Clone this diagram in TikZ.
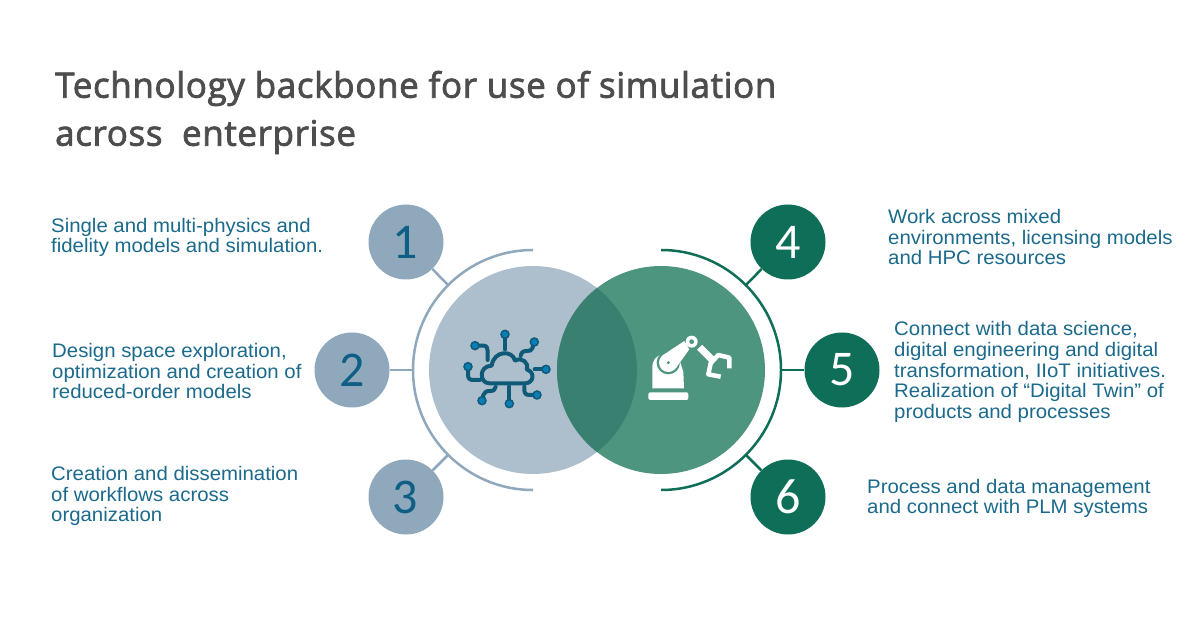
\documentclass[tikz,border=0pt]{standalone}
\usepackage{fontspec}
\setmainfont{Liberation Sans}[FakeStretch=1.04]
\newfontfamily\titlefont{Open Sans}[FakeBold=2.2,LetterSpace=1.8]
\newfontfamily\digitfont{Carlito}
\definecolor{lcirc}{HTML}{ADBFCC}
\definecolor{rcirc}{HTML}{4D957F}
\definecolor{ovl}{HTML}{3A8070}
\definecolor{lbadge}{HTML}{8FA8BC}
\definecolor{rbadge}{HTML}{0F6E58}
\definecolor{ldigit}{HTML}{0F5F85}
\definecolor{txt}{HTML}{1B6A8C}
\definecolor{ttl}{HTML}{4D4D4D}
\definecolor{ico}{HTML}{0F5A78}
\definecolor{dotc}{HTML}{0A7FB5}
\tikzset{
  lb/.style={circle,fill=lbadge,minimum size=75pt,inner sep=0pt,text=ldigit,font=\digitfont\fontsize{50}{50}\selectfont},
  rb/.style={circle,fill=rbadge,minimum size=75pt,inner sep=0pt,text=white,font=\digitfont\fontsize{50}{50}\selectfont},
  desc/.style={anchor=west,align=left,inner sep=0pt,text=txt,font=\fontsize{19.6}{20.8}\selectfont},
  ttlnode/.style={anchor=west,align=left,inner sep=0pt,text=ttl,font=\titlefont\fontsize{35}{48}\selectfont},
  larc/.style={draw=lbadge,line width=2.5pt},
  rarc/.style={draw=rbadge,line width=2.5pt},
  wire/.style={draw=ico,line width=4pt,line cap=round,line join=round},
  tip/.style={fill=dotc,draw=ico,line width=1.5pt},
}
\begin{document}
\begin{tikzpicture}[x=1pt,y=-1pt]
\useasboundingbox (0,0) rectangle (1200,628);
\fill[white] (0,0) rectangle (1200,628);
\node[ttlnode] (title) at (55,112.5) {Technology backbone for use of simulation\\across\ \ enterprise};
% circles
\fill[lcirc] (533,370) circle (104);
\fill[rcirc] (661,370) circle (104);
\begin{scope}
\clip (533,370) circle (104);
\fill[ovl] (661,370) circle (104);
\end{scope}
% arcs
\draw[larc] (533,250) arc[start angle=-90,end angle=-270,radius=120];
\draw[rarc] (661,250) arc[start angle=-90,end angle=90,radius=120];
\coordinate (a1) at (448,285);
\coordinate (a2) at (413,370);
\coordinate (a3) at (448,455);
\coordinate (a4) at (746,285);
\coordinate (a5) at (781,370);
\coordinate (a6) at (746,455);
\node[lb] (b1) at (406,242) {\kern-2pt 1};
\node[lb] (b2) at (352,370) {2};
\node[lb] (b3) at (406,497) {\kern-2pt 3};
\node[rb] (b4) at (788,242) {4};
\node[rb] (b5) at (842,370) {5};
\node[rb] (b6) at (788,497) {6};
\draw[larc] (b1) -- (a1);
\draw[larc] (b2) -- (a2);
\draw[larc] (b3) -- (a3);
\draw[rarc] (b4) -- (a4);
\draw[rarc] (b5) -- (a5);
\draw[rarc] (b6) -- (a6);
% texts
\node[desc] (t1) at (51,237.5) {Single and multi-physics and\\fidelity models and simulation.};
\node[desc] (t2) at (52,371) {Design space exploration,\\optimization and creation of\\reduced-order models};
\node[desc] (t3) at (51,496) {Creation and dissemination\\of workflows across\\organization};
\node[desc] (t4) at (888,237) {Work across mixed\\environments, licensing models\\and HPC resources};
\node[desc] (t5) at (894,372) {Connect with data science,\\digital engineering and digital\\transformation, IIoT initiatives.\\Realization of “Digital Twin” of\\products and processes};
\node[desc] (t6) at (867,498.5) {Process and data management\\and connect with PLM systems};
% cloud icon
\begin{scope}[shift={(430,300)},x=0.3333pt,y=-0.3333pt]
\draw[wire] (178,250) .. controls (148,250) and (145,198) .. (185,197)
 .. controls (192,150) and (248,150) .. (255,182)
 .. controls (275,170) and (298,188) .. (290,208)
 .. controls (318,218) and (310,250) .. (285,250) -- cycle;
\draw[wire] (225,103) -- (225,148);
\draw[wire] (135,137) -- (160,137) .. controls (170,137) and (173,143) .. (173,152) -- (173,180);
\draw[wire] (313,126) -- (307,145) .. controls (305,152) and (298,153) .. (290,153) .. controls (278,153) and (274,158) .. (272,168);
\draw[wire] (114,200) -- (114,225) .. controls (114,236) and (120,240) .. (130,240) -- (150,240);
\draw[wire] (348,208) -- (314,208);
\draw[wire] (321,285) -- (298,285) .. controls (288,285) and (283,280) .. (283,270) -- (283,260);
\draw[wire] (238,311) -- (238,260);
\draw[wire] (156,302) -- (160,285) .. controls (162,276) and (170,273) .. (180,273) .. controls (190,273) and (195,270) .. (197,261);
\foreach \p in {(225,103),(135,137),(313,126),(114,200),(348,208),(321,285),(238,311),(156,302)}
  \fill[tip] \p circle (12);
\end{scope}
% robot icon
\begin{scope}[shift={(630,320)},x=0.3333pt,y=-0.3333pt]
\fill[white,rounded corners=2pt] (55,217) rectangle (175,240);
\fill[white] (67,205) -- (67,140) .. controls (67,125) and (75,112) .. (90,105) -- (150,125) -- (160,155) -- (162,205) -- cycle;
\fill[rcirc] (115,128) circle (35);
\fill[rcirc] (185,65) circle (23);
\fill[white] (115,128) circle (28);
\fill[white] (98,106) -- (163,63) -- (178,88) -- (138,144) -- cycle;
\fill[rcirc] (115,128) circle (5);
\fill[white] (185,65) circle (18);
\fill[rcirc] (185,65) circle (7);
\draw[white,line width=7pt] (209,82) -- (252,125);
\draw[white,line width=4.5pt,line join=round] (240,132) -- (265,105) -- (298,113) -- (298,145);
\draw[white,line width=4.5pt,line join=round] (242,130) -- (235,163) -- (272,170);
\end{scope}
\end{tikzpicture}
\end{document}
